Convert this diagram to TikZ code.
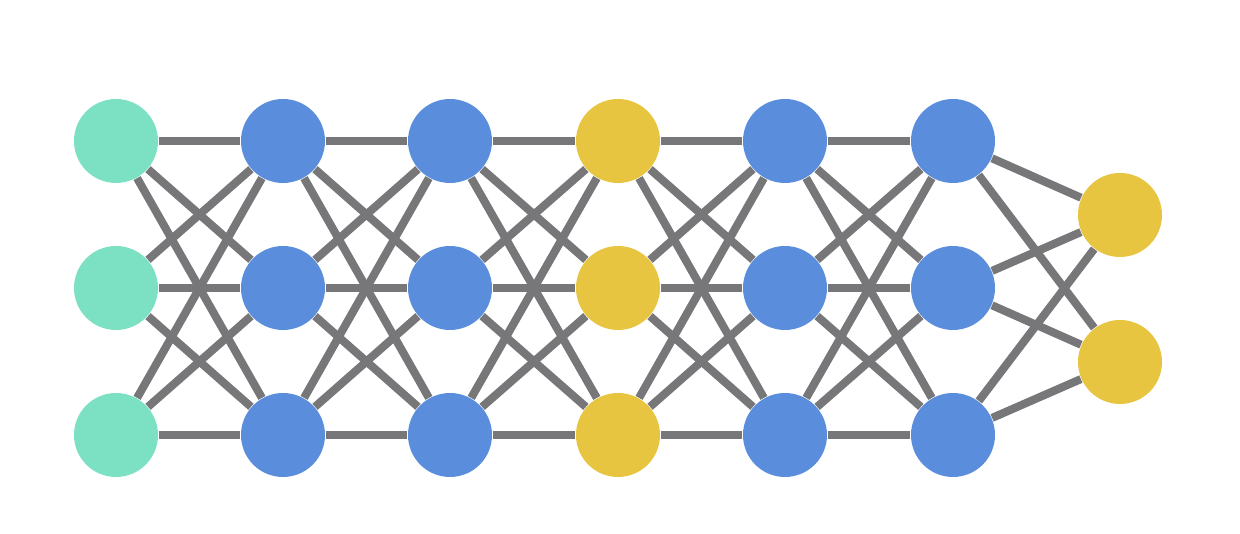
\documentclass[tikz,border=0pt]{standalone}
\usepackage{xcolor}
\usetikzlibrary{positioning}
\definecolor{inputgreen}{HTML}{7CE0C3}
\definecolor{hiddenblue}{HTML}{5A8EDC}
\definecolor{gateyellow}{HTML}{E8C540}
\definecolor{linkgray}{HTML}{77777A}

\begin{document}
\begin{tikzpicture}[x=1cm, y=1cm]
\tikzstyle{neuron}=[circle, minimum size=0.84cm, inner sep=0pt]
\tikzstyle{link}=[draw=linkgray, line width=2.3pt]
\useasboundingbox (0,0) rectangle (12.4,5.34);
% layers of three neurons
\foreach \c/\x/\col in {0/1.16/inputgreen, 1/2.83/hiddenblue, 2/4.50/hiddenblue, 3/6.18/gateyellow, 4/7.85/hiddenblue, 5/9.53/hiddenblue}
  \foreach \r/\y in {1/3.93, 2/2.46, 3/0.99}
    \node[neuron, fill=\col] (n\c-\r) at (\x,\y) {};
% output layer
\node[neuron, fill=gateyellow] (out-1) at (11.20,3.19) {};
\node[neuron, fill=gateyellow] (out-2) at (11.20,1.72) {};
% connections
\foreach \c [evaluate=\c as \d using int(\c+1)] in {0,...,4}
  \foreach \r in {1,2,3}
    \foreach \s in {1,2,3}
      \draw[link] (n\c-\r) -- (n\d-\s);
\foreach \r in {1,2,3}
  \foreach \s in {1,2}
    \draw[link] (n5-\r) -- (out-\s);
\end{tikzpicture}
\end{document}
